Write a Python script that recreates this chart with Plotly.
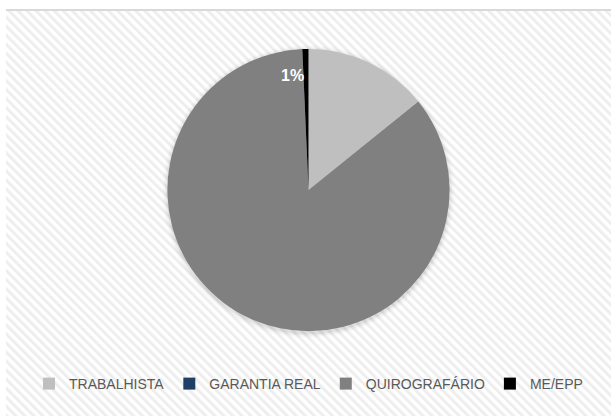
import base64
import math
import plotly.graph_objects as go

# ---- data ----
categories = ["TRABALHISTA", "GARANTIA REAL", "QUIROGRAFÁRIO", "ME/EPP"]
values = [14.2, 0.0, 85.1, 0.7]
colors = ["#bfbfbf", "#1f3f66", "#808080", "#000000"]
shown_label = "ME/EPP"

W, H = 611, 416
ML, MT = 6, 10
PW, PH = W - ML, H - MT

# striped background as an SVG pattern image
svg = (
    f'<svg xmlns="http://www.w3.org/2000/svg" width="{PW}" height="{PH}">'
    '<defs><pattern id="p" patternUnits="userSpaceOnUse" width="6.4" height="6.4" '
    'patternTransform="rotate(-45)">'
    '<rect width="6.4" height="6.4" fill="#ffffff"/>'
    '<rect width="3.0" height="6.4" fill="#eeeeee"/>'
    '</pattern></defs>'
    f'<rect width="{PW}" height="{PH}" fill="url(#p)"/></svg>'
)
src = "data:image/svg+xml;base64," + base64.b64encode(svg.encode()).decode()

total = sum(values)
texts = []
for c, v in zip(categories, values):
    texts.append(f"{round(v / total * 100):.0f}%" if c == shown_label else "")

# pie geometry in pixels (domain -> pixels)
dom_y = [0.209, 0.904]
cy_px = MT + (1 - (dom_y[0] + dom_y[1]) / 2) * PH
cx_px = ML + 0.5 * PW
R = (dom_y[1] - dom_y[0]) * PH / 2

fig = go.Figure()
fig.add_trace(go.Pie(
    labels=categories,
    values=values,
    marker=dict(colors=colors, line=dict(width=0)),
    sort=False,
    direction="clockwise",
    rotation=0,
    text=texts,
    textinfo="none",
    domain=dict(x=[0, 1], y=dom_y),
    hoverinfo="label+percent",
))

# data label for the small slice, placed from its computed mid-angle
cum = 0.0
annotations = []
for c, v in zip(categories, values):
    if c == shown_label:
        mid = (cum + v / 2) / total * 2 * math.pi
        r = 0.89 * R
        px = cx_px + r * math.sin(mid)
        py = cy_px - r * math.cos(mid)
        annotations.append(dict(
            x=(px - ML) / PW, y=1 - (py - MT) / PH, xref="paper", yref="paper",
            text=f"<b>{round(v / total * 100):.0f}%</b>", showarrow=False,
            xshift=-13, font=dict(color="white", size=16, family="Liberation Sans, Arial"),
        ))
    cum += v

shapes = [dict(type="line", xref="paper", yref="paper", x0=0, x1=1, y0=1.0, y1=1.0,
               line=dict(color="#d9d9d9", width=2))]
# soft shadow around pie
for i, a in enumerate([0.05, 0.035, 0.02, 0.01]):
    rr = R + 1 + i * 1.5
    shapes.append(dict(
        type="circle", xref="paper", yref="paper", layer="below",
        x0=(cx_px - rr - ML) / PW, x1=(cx_px + rr - ML) / PW,
        y0=1 - (cy_px + rr + 2 - MT) / PH, y1=1 - (cy_px - rr + 1 - MT) / PH,
        fillcolor=f"rgba(0,0,0,{a})", line=dict(width=0),
    ))

fig.update_layout(
    width=W, height=H,
    margin=dict(l=ML, r=0, t=MT, b=0),
    paper_bgcolor="white",
    plot_bgcolor="white",
    images=[dict(source=src, xref="paper", yref="paper", x=0, y=1, sizex=1, sizey=1,
                 xanchor="left", yanchor="top", sizing="stretch", layer="below")],
    shapes=shapes,
    annotations=annotations,
    showlegend=True,
    legend=dict(
        orientation="h", x=0.5, xanchor="center", y=(H - 384) / PH, yanchor="middle",
        font=dict(family="Liberation Sans, Arial", size=14, color="#595959"),
        itemwidth=30, bgcolor="rgba(0,0,0,0)", traceorder="normal",
    ),
)

fig.write_html("out.html", config={"displayModeBar": False},
               post_script="document.body.style.margin='0';")
